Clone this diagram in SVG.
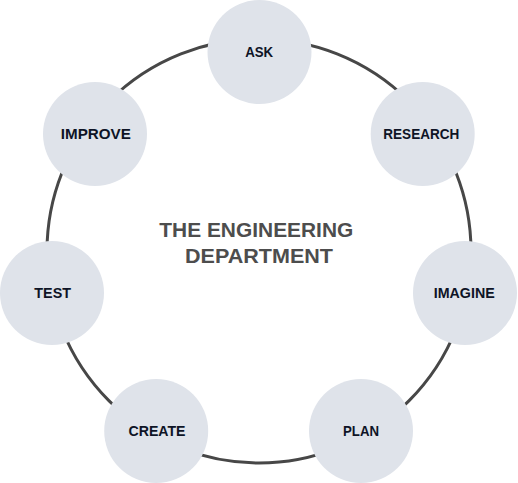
<svg xmlns="http://www.w3.org/2000/svg" width="518" height="483" viewBox="0 0 518 483">
<style>
.node{fill:#dfe3ea}
.lbl{font-family:"Liberation Sans",Arial,sans-serif;font-weight:bold;font-size:15px;fill:#0e1426;text-anchor:middle}
.title{font-family:"Liberation Sans",Arial,sans-serif;font-weight:bold;font-size:21px;fill:#4d4d4d;text-anchor:middle}
.ring{fill:none;stroke:#474747;stroke-width:3}
</style>
<rect width="518" height="483" fill="#ffffff"/>
<g id="connectors">
<circle class="ring" cx="259" cy="251" r="212"/>
</g>
<g id="title">
<text class="title" x="256.3" y="236.7" textLength="194" lengthAdjust="spacingAndGlyphs">THE ENGINEERING</text>
<text class="title" x="259" y="263.3" textLength="148" lengthAdjust="spacingAndGlyphs">DEPARTMENT</text>
</g>
<g id="ask">
<circle class="node" cx="259.5" cy="52" r="52"/>
<text class="lbl" x="259.2" y="57.4" textLength="28" lengthAdjust="spacingAndGlyphs">ASK</text>
</g>
<g id="research">
<circle class="node" cx="422.7" cy="134" r="52"/>
<text class="lbl" x="421.3" y="139.4" textLength="76" lengthAdjust="spacingAndGlyphs">RESEARCH</text>
</g>
<g id="imagine">
<circle class="node" cx="465" cy="293" r="52"/>
<text class="lbl" x="464.2" y="298.4" textLength="61" lengthAdjust="spacingAndGlyphs">IMAGINE</text>
</g>
<g id="plan">
<circle class="node" cx="361" cy="431" r="52"/>
<text class="lbl" x="361" y="436.4" textLength="36" lengthAdjust="spacingAndGlyphs">PLAN</text>
</g>
<g id="create">
<circle class="node" cx="156.2" cy="431" r="52"/>
<text class="lbl" x="157" y="436.4" textLength="57" lengthAdjust="spacingAndGlyphs">CREATE</text>
</g>
<g id="test">
<circle class="node" cx="52" cy="293" r="52"/>
<text class="lbl" x="52.7" y="298.4" textLength="36.7" lengthAdjust="spacingAndGlyphs">TEST</text>
</g>
<g id="improve">
<circle class="node" cx="95" cy="134" r="52"/>
<text class="lbl" x="95.8" y="139.4" textLength="70" lengthAdjust="spacingAndGlyphs">IMPROVE</text>
</g>
</svg>
